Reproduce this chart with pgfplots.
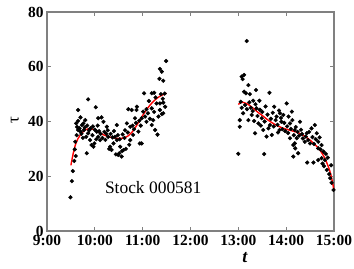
\documentclass[border=0pt]{standalone}
\usepackage{fontspec}
\setmainfont{Liberation Serif}
\usepackage{pgfplots}
\pgfplotsset{compat=1.18}
\begin{document}
\begin{tikzpicture}[x=1bp,y=1bp]
\path[use as bounding box] (0,0) rectangle (354,269);
\begin{axis}[at={(47bp,38bp)}, anchor=south west, scale only axis,
  width=287bp, height=219bp,
  xmin=9, xmax=15, ymin=0, ymax=80,
  xtick={9,10,11,12,13,14,15},
  xticklabels={9:00,10:00,11:00,12:00,13:00,14:00,15:00},
  ytick={0,20,40,60,80},
  tick align=inside, major tick length=4bp,
  axis line style={draw=gray, line width=1.2pt},
  every tick/.style={draw=gray, line width=0.8pt},
  ticklabel style={font=\fontsize{15.5}{15.5}\selectfont\bfseries, text=black},
  /pgf/number format/assume math mode=true,
  xticklabel style={yshift=-1bp},
  xlabel={\textbf{\textit{t}}},
  xlabel style={at={(axis description cs:0.69,-0.12)}, anchor=center, font=\fontsize{18}{18}\selectfont},
  ylabel={τ},
  ylabel style={at={(axis description cs:-0.112,0.507)}, anchor=center, font=\fontsize{17}{17}\selectfont},
  clip=false]
\addplot[only marks, mark=*, mark size=1.9bp, black] coordinates {
(9.49,12.3)(9.52,18.2)(9.54,21.9)(9.57,25.6)(9.60,27.4)(9.59,32.6)(9.61,39.3)(9.62,35)
(9.65,40.2)(9.65,36.9)(9.65,44.2)(9.70,36.3)(9.73,38.7)(9.76,39.3)(9.77,36.9)(9.82,34.4)
(9.83,28.4)(9.86,35.7)(9.86,48.1)(9.90,33.2)(9.93,31.4)(9.97,30.8)(9.99,32)(10.02,45.2)
(10.04,36.3)(10.07,34.4)(10.07,41.2)(10.11,33.2)(10.14,41.5)(10.18,39.9)(10.25,38.1)(10.28,34.4)
(10.30,30)(10.32,30.8)(10.35,29.6)(10.39,32)(10.42,34.4)(10.44,28)(10.46,33.2)(10.46,38.7)
(10.49,27.8)(10.51,28.4)(10.53,30.8)(10.56,27.2)(10.57,29.2)(10.60,29.6)(10.65,30)(10.67,39.3)
(10.70,44.5)(10.74,38.1)(10.74,33.2)(10.77,44.2)(10.80,35.1)(10.84,41.2)(10.87,44.2)(10.88,45.4)
(10.91,36.3)(10.94,32)(10.98,32)(10.98,41.2)(11.01,43.6)(11.03,50.3)(11.08,39.9)(11.08,44.5)
(11.19,38.7)(11.19,44.8)(11.19,50.3)(11.22,40.5)(11.24,50.5)(11.26,36.9)(11.29,46.6)(11.31,35.2)
(11.35,55.6)(11.36,59.2)(11.36,44.2)(11.36,46.6)(11.40,58.2)(11.40,42.7)(11.43,54.9)(11.43,43)
(11.43,46.9)(11.47,45.4)(11.49,62.1)
(9.63,38)(9.68,37.5)(9.72,35.5)(9.75,34)(9.79,37.8)(9.80,40.5)(9.84,38.5)(9.88,36.8)
(9.91,37.5)(9.95,35)(9.96,38.2)(10.00,37)(10.03,33.5)(10.06,38.5)(10.09,36.5)(10.12,35.5)
(10.16,34)(10.20,36.2)(10.22,33.3)(10.24,35.5)(10.27,36.8)(10.33,35.5)(10.37,34.2)(10.40,36.5)
(10.48,35)(10.52,33.5)(10.58,35.3)(10.62,34)(10.63,36.8)(10.69,36)(10.72,31.5)(10.79,38.5)
(10.82,37.2)(10.86,39.5)(10.93,40.3)(10.96,38.5)(11.05,41.8)(11.11,43)(11.13,47.5)(11.15,41)
(11.24,43.5)(11.27,48.8)(11.33,41.8)(11.38,50)(11.42,48.3)(11.46,50.2)(9.58,29.8)(9.70,41.5)
};
\addplot[only marks, mark=*, mark size=1.9bp, black] coordinates {
(13.00,28.2)(13.54,28.1)(13.175,69.4)(13.07,56.4)(13.12,57)(13.09,55.5)(13.21,53.3)(13.12,50.9)
(13.16,50.3)(13.24,50)(13.37,51.5)(13.65,50.5)(13.31,47.6)(13.44,47.6)(13.75,45.4)(13.07,45)
(13.03,40.5)(13.03,38.1)(13.21,40.5)(13.28,42.4)(13.35,35.7)(13.38,44.8)(13.42,39.3)(13.49,41.2)
(13.52,36.9)(13.59,34.5)(13.70,35.1)(13.66,38.7)(13.80,41.8)(13.87,43)(13.90,39.9)(13.86,36.9)
(14.01,46.6)(14.12,43.6)(14.05,41.8)(13.94,42.4)(14.08,39.3)(14.29,39.9)(13.83,36)(14.18,36.9)
(14.43,35.7)(14.53,37.5)(14.60,38.7)(14.64,35.7)(14.08,33.9)(14.22,33.9)(14.46,33.2)(14.50,32)
(14.67,32.6)(14.74,31.4)(14.18,32)(14.39,32.6)(14.15,31.4)(14.19,30.2)(14.25,28.4)(14.15,27.2)
(14.67,30.2)(14.78,29)(14.81,25.9)(14.74,26.6)(14.67,25.9)(14.85,22.3)(14.92,19.3)(14.44,25)
(14.57,25)(14.76,24.6)(14.79,23.7)(14.90,20.8)(14.95,17.6)(14.99,15)
(13.05,47.2)(13.10,43)(13.14,46)(13.18,44.5)(13.23,47)(13.26,45)(13.30,43.8)(13.33,40.2)
(13.36,46.3)(13.40,42)(13.45,44.3)(13.47,38.5)(13.50,43.5)(13.55,40)(13.57,45.5)(13.61,42.5)
(13.63,37.5)(13.68,41)(13.72,43.2)(13.74,38.2)(13.78,40.5)(13.82,38.8)(13.85,44)(13.89,41.3)
(13.92,37.2)(13.96,39.5)(13.98,36.5)(14.02,38.2)(14.04,35.8)(14.10,37.3)(14.13,40.5)(14.16,35)
(14.20,38)(14.24,36.2)(14.27,34.8)(14.31,37)(14.33,35.4)(14.35,33.8)(14.41,34.5)(14.48,36.2)
(14.55,34.3)(14.58,31.8)(14.62,33.5)(14.70,34.2)(14.72,29.8)(14.83,28.2)(14.87,26.8)(14.94,24)
};
\addplot[red, line width=1.4pt, smooth] coordinates {
(9.50,24.0)(9.55,28.5)(9.60,31.8)(9.65,33.8)(9.70,35.2)(9.80,36.9)(9.90,37.4)(10.00,36.9)
(10.10,35.9)(10.20,35.0)(10.30,34.4)(10.40,34.0)(10.50,33.8)(10.60,34.0)(10.70,34.8)(10.80,36.6)
(10.90,39.3)(11.00,42.2)(11.10,44.8)(11.20,46.9)(11.30,48.5)(11.40,49.6)(11.50,50.3)
};
\addplot[red, line width=1.4pt, smooth] coordinates {
(13.00,46.2)(13.05,46.9)(13.10,47.0)(13.20,46.3)(13.30,45.0)(13.40,43.5)(13.50,42.2)(13.60,40.8)
(13.70,39.6)(13.80,38.6)(13.90,37.8)(14.00,37.2)(14.10,36.7)(14.20,36.2)(14.30,35.5)(14.40,34.5)
(14.50,33.2)(14.60,31.6)(14.70,29.7)(14.80,26.9)(14.90,22.6)(14.95,19.4)(15.00,14.8)
};
\node[font=\fontsize{17.5}{17.5}\selectfont] at (axis cs:11.22,15.7) {Stock 000581};
\end{axis}
\end{tikzpicture}
\end{document}
